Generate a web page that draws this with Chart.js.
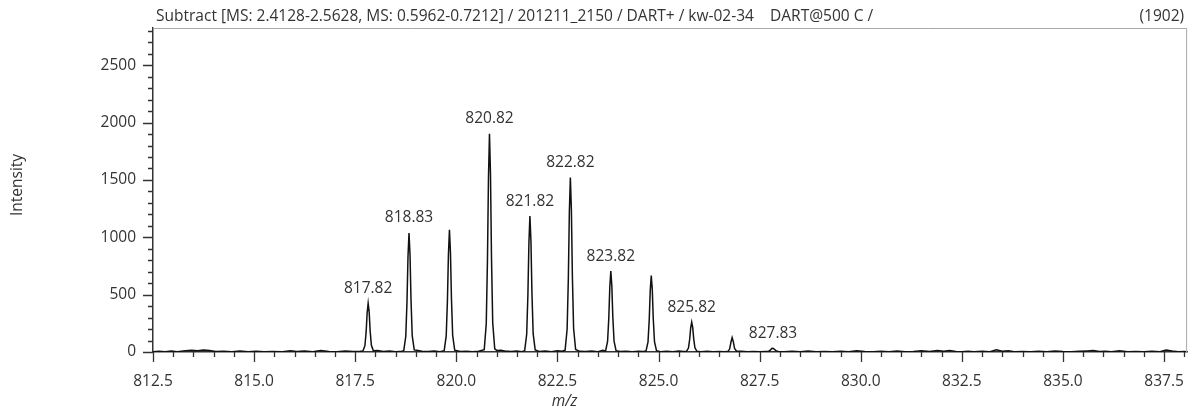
<!doctype html>
<html lang="en">

<head>
    <title>Subtract spectrum kw-02-34</title>
    <meta charset="utf-8">
    <style>
        html, body { margin: 0; padding: 0; background: #fff; }
        #caixa { width: 1204px; height: 412px; }
    </style>
</head>

<body>

    <div id="caixa">
        <canvas id="espectro" width="1204" height="412"></canvas>
    </div>

    <script src="https://cdn.jsdelivr.net/npm/chart.js"></script>
    <script>
        // title line of the spectrum
        const tituloTexto = "Subtract [MS: 2.4128-2.5628, MS: 0.5962-0.7212] / 201211_2150 / DART+ / kw-02-34    DART@500 C /";

        // profile spectrum: m/z and intensity
        const perfilMz = [
            812.50, 812.65, 812.80, 812.95, 813.10, 813.30, 813.45, 813.60, 813.75, 813.90,
            814.05, 814.25, 814.45, 814.65, 814.85, 815.05, 815.25, 815.45, 815.70, 815.90,
            816.05, 816.25, 816.45, 816.65, 816.85, 817.05, 817.25, 817.45, 817.62,
            817.69, 817.74, 817.77, 817.795, 817.82, 817.845, 817.87, 817.90, 817.95,
            818.05, 818.20, 818.35, 818.50, 818.65,
            818.70, 818.75, 818.78, 818.805, 818.83, 818.855, 818.88, 818.91, 818.96,
            819.05, 819.15, 819.30, 819.45, 819.60,
            819.70, 819.75, 819.78, 819.805, 819.83, 819.855, 819.88, 819.91, 819.96,
            820.10, 820.25, 820.40, 820.55,
            820.69, 820.74, 820.77, 820.795, 820.82, 820.845, 820.87, 820.90, 820.95,
            821.00, 821.10, 821.20, 821.35, 821.50, 821.62,
            821.69, 821.74, 821.77, 821.795, 821.82, 821.845, 821.87, 821.90, 821.95,
            822.05, 822.20, 822.35, 822.50, 822.62,
            822.69, 822.74, 822.77, 822.795, 822.82, 822.845, 822.87, 822.90, 822.95,
            823.05, 823.20, 823.35, 823.50, 823.62,
            823.69, 823.74, 823.77, 823.795, 823.82, 823.845, 823.87, 823.90, 823.95,
            824.05, 824.20, 824.35, 824.50, 824.62,
            824.69, 824.74, 824.77, 824.795, 824.82, 824.845, 824.87, 824.90, 824.95,
            825.05, 825.20, 825.35, 825.50, 825.62,
            825.69, 825.74, 825.77, 825.795, 825.82, 825.845, 825.87, 825.90, 825.95,
            826.05, 826.20, 826.35, 826.50, 826.65,
            826.72, 826.76, 826.79, 826.82, 826.85, 826.88, 826.93,
            827.05, 827.20, 827.35, 827.50, 827.65,
            827.72, 827.77, 827.80, 827.83, 827.86, 827.90, 827.96,
            828.10, 828.30, 828.50, 828.70, 828.90, 829.10, 829.30, 829.50, 829.70, 829.90,
            830.10, 830.30, 830.50, 830.70, 830.90, 831.10, 831.30, 831.50, 831.70, 831.90,
            832.05, 832.20, 832.35, 832.50, 832.65, 832.80, 833.00, 833.20, 833.35, 833.50,
            833.65, 833.80, 834.00, 834.20, 834.40, 834.60, 834.80, 835.00, 835.20, 835.40,
            835.60, 835.75, 835.90, 836.05, 836.20, 836.40, 836.60, 836.80, 837.00, 837.20,
            837.40, 837.55, 837.70, 837.85, 838.00, 838.07
        ];
        const perfilInt = [
            2, 6, 3, 8, 2, 12, 16, 10, 18, 14,
            4, 7, 2, 9, 3, 6, 2, 5, 3, 11,
            4, 8, 2, 12, 5, 3, 9, 4, 6,
            8, 55, 175, 340, 425, 350, 180, 58, 10,
            12, 5, 9, 3, 6,
            12, 135, 435, 830, 1037, 850, 450, 140, 18,
            14, 6, 4, 8, 3,
            12, 140, 445, 850, 1066, 870, 460, 145, 16,
            4, 7, 3, 6,
            20, 245, 800, 1520, 1902, 1550, 820, 255, 28,
            14, 16, 8, 4, 9, 3,
            12, 155, 500, 950, 1185, 970, 515, 160, 18,
            5, 8, 3, 10, 6,
            16, 200, 640, 1220, 1521, 1245, 660, 205, 22,
            6, 4, 9, 3, 14,
            8, 92, 295, 565, 705, 580, 305, 95, 12,
            4, 7, 3, 6, 4,
            8, 88, 280, 535, 667, 550, 290, 90, 12,
            3, 6, 2, 8, 4,
            5, 34, 110, 210, 260, 215, 115, 36, 6,
            3, 7, 2, 5, 3,
            6, 28, 85, 125, 88, 30, 6,
            6, 2, 5, 3, 4,
            5, 18, 30, 32, 26, 12, 4,
            3, 7, 2, 9, 3, 5, 2, 6, 3, 10,
            4, 2, 6, 3, 8, 2, 5, 11, 4, 12,
            6, 14, 5, 3, 7, 2, 6, 3, 20, 6,
            10, 3, 5, 2, 7, 3, 8, 4, 2, 6,
            9, 12, 4, 7, 3, 10, 2, 5, 3, 6,
            2, 18, 9, 3, 5, 2
        ];

        // labelled peaks (m/z)
        const rotulosMz = [817.82, 818.83, 820.82, 821.82, 822.82, 823.82, 825.82, 827.83];

        // axis ticks
        const ticksX = [812.5, 815.0, 817.5, 820.0, 822.5, 825.0, 827.5, 830.0, 832.5, 835.0, 837.5];
        const ticksY = [0, 500, 1000, 1500, 2000, 2500];

        const fonte = "'Open Sans', sans-serif";
        const corTexto = "#333";
        const tamFonte = 15.5;

        // tick marks, frame, peak labels and titles
        const extras = {
            id: 'extras',
            afterDraw(chart) {
                const { ctx, chartArea: a, scales: { x, y } } = chart;
                ctx.save();

                // light frame on top and right
                ctx.strokeStyle = "#a8a8a8";
                ctx.lineWidth = 1;
                ctx.beginPath();
                ctx.moveTo(a.left, a.top + 0.5);
                ctx.lineTo(a.right - 0.5, a.top + 0.5);
                ctx.lineTo(a.right - 0.5, a.bottom);
                ctx.stroke();

                // x tick marks every 0.5, long ones on labelled ticks
                ctx.strokeStyle = "#333";
                ctx.lineWidth = 1.3;
                ctx.beginPath();
                for (let i = 0; ; i++) {
                    const v = 812.5 + i * 0.5;
                    if (v > x.max) break;
                    const px = Math.round(x.getPixelForValue(v)) + 0.5;
                    const len = i % 5 === 0 ? 10 : 5;
                    ctx.moveTo(px, a.bottom);
                    ctx.lineTo(px, a.bottom + len);
                }
                // y tick marks every 100
                for (let j = 0; ; j++) {
                    const v = j * 100;
                    if (v > y.max) break;
                    const py = Math.round(y.getPixelForValue(v)) + 0.5;
                    const len = j % 5 === 0 ? 10 : 5;
                    ctx.moveTo(a.left, py);
                    ctx.lineTo(a.left - len, py);
                }
                ctx.stroke();

                // peak labels
                ctx.fillStyle = corTexto;
                ctx.font = tamFonte + "px " + fonte;
                ctx.textAlign = "center";
                ctx.textBaseline = "middle";
                rotulosMz.forEach(m => {
                    const h = perfilInt[perfilMz.indexOf(m)];
                    ctx.fillText(m.toFixed(2), x.getPixelForValue(m), y.getPixelForValue(h) - 15);
                });

                // header line
                ctx.textAlign = "left";
                ctx.fillText(tituloTexto, a.left + 3, 17);
                ctx.textAlign = "right";
                ctx.fillText("(" + Math.max(...perfilInt) + ")", a.right - 3, 17);

                // axis titles
                ctx.textAlign = "center";
                ctx.font = "italic " + tamFonte + "px " + fonte;
                ctx.fillText("m/z", a.left + (a.right - a.left) * 0.398, 402);
                ctx.font = tamFonte + "px " + fonte;
                ctx.translate(18, (a.top + a.bottom) / 2 - 5);
                ctx.rotate(-Math.PI / 2);
                ctx.fillText("Intensity", 0, 0);

                ctx.restore();
            }
        };

        const local = document.querySelector("#espectro");

        new Chart(local, {
            type: "line",
            data: {
                datasets: [{
                    data: perfilMz.map((m, i) => ({ x: m, y: perfilInt[i] })),
                    borderColor: "#111",
                    borderWidth: 1.5,
                    pointRadius: 0,
                    tension: 0,
                    fill: false
                }]
            },
            options: {
                responsive: false,
                animation: false,
                layout: { padding: { left: 0, right: 8, top: 28, bottom: 0 } },
                plugins: {
                    legend: { display: false },
                    tooltip: { enabled: false }
                },
                scales: {
                    x: {
                        type: "linear",
                        min: 812.5,
                        max: 838.07,
                        grid: { display: false, drawTicks: false },
                        border: { display: true, color: "#333", width: 1.5 },
                        afterBuildTicks: s => { s.ticks = ticksX.map(v => ({ value: v })); },
                        afterFit: s => { s.height = 60; },
                        ticks: {
                            padding: 20,
                            maxRotation: 0,
                            autoSkip: false,
                            color: corTexto,
                            font: { family: fonte, size: tamFonte },
                            callback: v => v.toFixed(1)
                        }
                    },
                    y: {
                        min: 0,
                        max: 2825,
                        grid: { display: false, drawTicks: false },
                        border: { display: true, color: "#333", width: 1.5 },
                        afterBuildTicks: s => { s.ticks = ticksY.map(v => ({ value: v })); },
                        afterFit: s => { s.width = 153; },
                        ticks: {
                            padding: 17,
                            autoSkip: false,
                            color: corTexto,
                            font: { family: fonte, size: tamFonte },
                            callback: v => v
                        }
                    }
                }
            },
            plugins: [extras]
        });
    </script>
</body>
</html>
